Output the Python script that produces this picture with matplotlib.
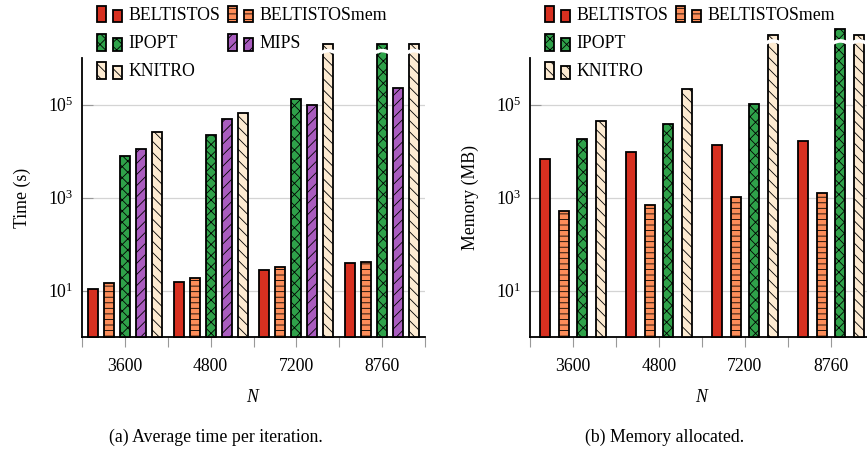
import numpy as np
import matplotlib
matplotlib.use('Agg')
import matplotlib.pyplot as plt
from matplotlib.patches import Rectangle, Patch
from matplotlib.lines import Line2D
from matplotlib.legend_handler import HandlerBase
from matplotlib.ticker import FixedLocator, LogFormatterSciNotation, NullLocator


# ------------
#    DATA
# ------------
sizes = ['3600', '4800', '7200', '8760']

# average time per iteration (s), bars above 1e6 are drawn broken
time_beltistos = [10, 14, 27, 38]
time_beltistos_mem = [13.4, 18, 31, 41]
time_ipopt = [7900, 22000, 132000, 2.05e6]
time_mips = [11200, 48000, 96000, 230000]
time_knitro = [25000, 66000, 2.05e6, 2.05e6]

# memory allocated (MB)
mem_beltistos = [6800, 9300, 13600, 16600]
mem_beltistos_mem = [515, 680, 1000, 1250]
mem_ipopt = [17800, 39000, 100000, 4.2e6]
mem_knitro = [44000, 215000, 3.1e6, 3.1e6]

# solver styles
styles = {
    'BELTISTOS': dict(facecolor='#d73020', hatch=''),
    'BELTISTOSmem': dict(facecolor='#fc8d59', hatch='---'),
    'IPOPT': dict(facecolor='#2fa24a', hatch='xxx'),
    'MIPS': dict(facecolor='#a95cbf', hatch='///'),
    'KNITRO': dict(facecolor='#fdebd2', hatch='\\\\\\'),
}

plt.rcParams['font.family'] = ['Liberation Serif', 'DejaVu Serif']
plt.rcParams['mathtext.fontset'] = 'custom'
plt.rcParams['mathtext.rm'] = 'Liberation Serif'
plt.rcParams['mathtext.it'] = 'Liberation Serif:italic'
plt.rcParams['hatch.linewidth'] = 0.6
plt.rcParams['font.size'] = 12.8

Y_MAX = 1e6
EDGE_LW = 1.3


class TwoBarHandler(HandlerBase):
    """ pgfplots-like legend image: two small bars """
    def create_artists(self, legend, orig_handle, xdescent, ydescent,
                       width, height, fontsize, trans):
        w = width * 0.36
        kw = dict(facecolor=orig_handle.get_facecolor(), hatch=orig_handle.get_hatch(),
                  edgecolor='black', linewidth=EDGE_LW, transform=trans)
        r1 = Rectangle((-xdescent, -ydescent), w, height, **kw)
        r2 = Rectangle((-xdescent + width - w, -ydescent), w, height * 0.78, **kw)
        return [r1, r2]


def draw_break(ax, x, width, y):
    """ white wave over the bar to mark that it goes off the chart """
    xs = np.linspace(x - width * 0.75, x + width * 0.75, 30)
    ys = y * 10 ** (0.045 * np.sin(np.pi * (xs - xs[0]) / (xs[-1] - xs[0])))
    ax.plot(xs, ys, color='white', lw=2.6, clip_on=False, zorder=5,
            solid_capstyle='butt')


def draw_panel(ax, series, spacing, y_break, ylabel):
    n = len(series)
    x = np.arange(len(sizes))
    width = 0.115
    for k, (name, values) in enumerate(series):
        offset = (k - (n - 1) / 2) * spacing
        bars = ax.bar(x + offset, values, width, bottom=1, edgecolor='black',
                      linewidth=EDGE_LW, zorder=3, **styles[name])
        for b, v in zip(bars, values):
            b.set_clip_on(False)
            if v > Y_MAX:
                draw_break(ax, b.get_x() + width / 2, width, y_break)

    ax.set_yscale('log')
    ax.set_ylim(1, Y_MAX)
    ax.set_xlim(-0.5, len(sizes) - 0.5)
    ax.yaxis.set_major_locator(FixedLocator([1e1, 1e3, 1e5]))
    ax.yaxis.set_major_formatter(LogFormatterSciNotation())
    ax.yaxis.set_minor_locator(NullLocator())
    ax.set_xticks(x)
    ax.set_xticklabels(sizes)
    ax.set_xticks(np.arange(len(sizes) + 1) - 0.5, minor=True)
    ax.tick_params(axis='x', which='both', direction='out', length=7, color='#999999', width=0.8)
    ax.tick_params(axis='x', which='major', pad=8)
    ax.tick_params(axis='y', which='major', direction='in', length=8, color='#999999', width=0.8, pad=6)
    ax.grid(axis='y', color='#d4d4d4', lw=0.9)
    ax.set_axisbelow(True)
    for s in ['top', 'right']:
        ax.spines[s].set_visible(False)
    for s in ['left', 'bottom']:
        ax.spines[s].set_linewidth(1.3)
    ax.set_xlabel('$N$', labelpad=10)
    ax.set_ylabel(ylabel, labelpad=12)


def add_legend(ax, names, anchor):
    # legends are filled column-wise, blank entries keep pgfplots' row layout
    handles = [Patch(**styles[name]) if name else Line2D([], [], linestyle='none')
               for name in names]
    leg = ax.legend(handles, names, ncol=2, loc='upper left', bbox_to_anchor=anchor,
                    frameon=False, handler_map={Patch: TwoBarHandler()},
                    handlelength=1.4, handleheight=1.05, handletextpad=0.35,
                    columnspacing=0.45, labelspacing=0.55, borderaxespad=0,
                    borderpad=0)
    for t in leg.get_texts():
        t.set_fontsize(12.8)


def main():
    fig = plt.figure(figsize=(8.67, 4.53), dpi=100)
    ax1 = fig.add_axes([82 / 867, 116 / 453, 343 / 867, 279 / 453])
    ax2 = fig.add_axes([530 / 867, 116 / 453, 344 / 867, 279 / 453])

    time_series = [('BELTISTOS', time_beltistos), ('BELTISTOSmem', time_beltistos_mem),
                   ('IPOPT', time_ipopt), ('MIPS', time_mips), ('KNITRO', time_knitro)]
    mem_series = [('BELTISTOS', mem_beltistos), ('BELTISTOSmem', mem_beltistos_mem),
                  ('IPOPT', mem_ipopt), ('KNITRO', mem_knitro)]

    draw_panel(ax1, time_series, 0.1866, 1.3e6, 'Time (s)')
    draw_panel(ax2, mem_series, 0.2174, 2.1e6, 'Memory (MB)')

    add_legend(ax1, ['BELTISTOS', 'IPOPT', 'KNITRO', 'BELTISTOSmem', 'MIPS', ''],
               (15 / 343, 1 + 52 / 279))
    add_legend(ax2, ['BELTISTOS', 'IPOPT', 'KNITRO', 'BELTISTOSmem', '', ''],
               (15 / 344, 1 + 52 / 279))

    fig.text(216 / 867, 1 - 437 / 453, '(a) Average time per iteration.',
             ha='center', va='center', fontsize=12.8)
    fig.text(665 / 867, 1 - 437 / 453, '(b) Memory allocated.',
             ha='center', va='center', fontsize=12.8)

    fig.savefig('out.png', dpi=100)


if __name__ == '__main__':
    main()
